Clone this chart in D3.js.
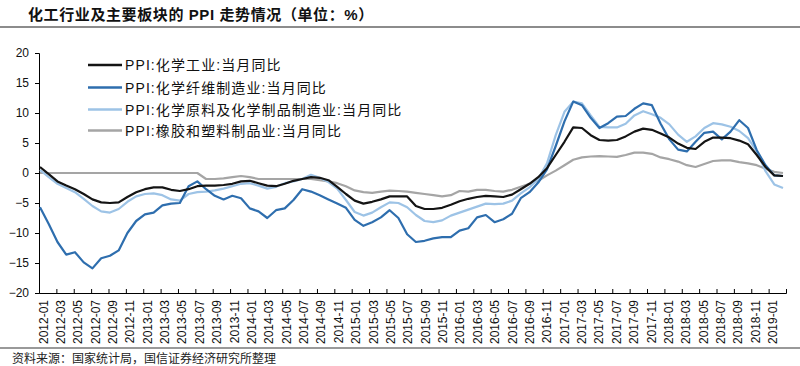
<!DOCTYPE html>
<html lang="zh">
<head>
<meta charset="UTF-8">
<script src="https://cdn.jsdelivr.net/npm/d3@7/dist/d3.min.js"></script>
<style>
  body { margin: 0; background: #fff; }
  text { font-family: "Liberation Sans", Arial, "Noto Sans CJK SC", sans-serif; }
  .title { font-size: 15px; font-weight: bold; fill: #111; letter-spacing: 0.6px; }
  .legend_text { font-size: 14px; fill: #111; letter-spacing: 1.1px; }
  .ticks_text { font-size: 12px; fill: #111; }
  .source { font-size: 12px; fill: #222; font-family: "Noto Sans CJK SC", sans-serif; }
</style>
</head>
<body>
<div id="chart"></div>
<script>
// months 2012-01 .. 2019-02
var months = [];
for (var yr = 2012; yr <= 2019; yr++) {
  for (var m = 1; m <= 12; m++) {
    if (yr === 2019 && m > 2) break;
    months.push(yr + "-" + (m < 10 ? "0" + m : m));
  }
}

var seriesNames = [
  "PPI:化学工业:当月同比",
  "PPI:化学纤维制造业:当月同比",
  "PPI:化学原料及化学制品制造业:当月同比",
  "PPI:橡胶和塑料制品业:当月同比"
];
var seriesColors = ["#141414", "#2e6eae", "#9dc3e6", "#a5a5a5"];

var chemical = [1.0, -0.2, -1.4, -2.1, -2.7, -3.5, -4.4, -4.9, -5.0, -4.9,
  -4.0, -3.2, -2.7, -2.4, -2.4, -2.8, -3.0, -2.7, -2.2, -2.1,
  -2.1, -2.0, -1.8, -1.4, -1.3, -1.7, -2.1, -2.2, -1.8, -1.3,
  -1.0, -0.7, -0.8, -1.2, -2.3, -3.5, -4.6, -5.1, -4.8, -4.4,
  -3.9, -3.9, -3.9, -5.5, -6.0, -6.0, -5.8, -5.3, -4.7, -4.3,
  -4.0, -3.8, -3.9, -4.0, -3.6, -2.7, -1.8, -0.7, 0.8, 3.0,
  5.2, 7.6, 7.5, 6.3, 5.5, 5.4, 5.5, 6.1, 6.9, 7.4,
  7.2, 6.6, 5.9, 4.9, 4.2, 4.0, 5.2, 5.9, 5.9, 5.8,
  5.4, 4.8, 3.0, 1.0, -0.4, -0.5];

var fiber = [-5.7, -8.5, -11.5, -13.6, -13.2, -14.9, -15.9, -14.2, -13.8, -12.9,
  -10.0, -8.0, -6.9, -6.6, -5.4, -5.1, -5.0, -2.2, -1.4, -2.7,
  -3.8, -4.4, -3.8, -4.2, -5.9, -6.4, -7.5, -6.2, -5.9, -4.5,
  -2.7, -3.1, -3.7, -4.4, -5.1, -5.8, -7.8, -8.8, -8.2, -7.4,
  -6.2, -7.5, -10.2, -11.5, -11.3, -10.9, -10.7, -10.7, -9.6, -9.2,
  -7.4, -7.0, -8.2, -7.7, -6.8, -4.2, -3.2, -1.6, 0.6, 4.5,
  8.6, 11.9, 11.3, 9.2, 7.5, 8.3, 9.4, 9.5, 10.7, 11.6,
  11.3, 8.2, 5.6, 3.9, 3.6, 5.2, 6.7, 6.9, 5.6, 6.9,
  8.8, 7.5, 3.8, 1.3, -0.4, -0.5];

var rawMaterial = [0.5, -0.7, -1.8, -2.5, -3.2, -4.3, -5.5, -6.4, -6.6, -6.0,
  -4.8, -3.9, -3.5, -3.4, -3.7, -4.4, -4.6, -3.5, -3.2, -3.1,
  -2.9, -2.6, -2.2, -1.8, -1.7, -2.1, -2.6, -2.3, -1.7, -1.4,
  -1.0, -0.3, -0.8, -1.5, -2.6, -4.5, -6.5, -7.1, -6.6, -5.7,
  -4.9, -5.0, -5.7, -7.0, -8.0, -8.2, -7.9, -7.1, -6.6, -6.1,
  -5.6, -5.1, -5.2, -5.1, -4.6, -3.4, -2.4, -1.0, 1.6, 6.3,
  10.2, 11.9, 11.6, 9.6, 7.7, 7.6, 7.6, 8.2, 9.6, 10.3,
  9.8, 9.2, 8.1, 6.4, 5.2, 6.1, 7.5, 8.3, 8.1, 7.7,
  7.0, 5.8, 3.6, 0.3, -1.9, -2.5];

var rubber = [0, 0, 0, 0, 0, 0, 0, 0, 0, 0,
  0, 0, 0, 0, 0, 0, 0, 0, 0, -1.0,
  -1.0, -0.9, -0.7, -0.5, -0.7, -1.0, -1.0, -1.0, -1.0, -1.0,
  -1.0, -1.0, -1.2, -1.4, -1.7, -2.2, -2.9, -3.2, -3.3, -3.1,
  -2.95, -3.0, -3.1, -3.3, -3.5, -3.7, -3.9, -3.7, -3.0, -3.1,
  -2.8, -2.8, -3.0, -3.1, -2.8, -2.3, -1.8, -1.3, -0.4, 0.4,
  1.3, 2.2, 2.6, 2.75, 2.8, 2.75, 2.7, 3.0, 3.4, 3.4,
  3.2, 2.6, 2.3, 1.9, 1.3, 1.0, 1.5, 2.0, 2.1, 2.1,
  1.8, 1.6, 1.3, 0.7, 0.2, 0.0];

var yTicks = [20, 15, 10, 5, 0, -5, -10, -15, -20];

var allSeries = [chemical, fiber, rawMaterial, rubber];

var width = 800, height = 366;
var plotLeft = 39, plotRight = 786, plotTop = 53, plotBottom = 293;

var svg = d3.select("#chart").append("svg")
  .attr("width", width)
  .attr("height", height);

// title + rules
svg.append("text")
  .attr("class", "title")
  .attr("x", 28)
  .attr("y", 20)
  .text("化工行业及主要板块的 PPI 走势情况（单位：%）");

svg.append("line")
  .attr("x1", 0).attr("x2", width)
  .attr("y1", 27).attr("y2", 27)
  .style("stroke", "#666").style("stroke-width", 1.5);

svg.append("line")
  .attr("x1", 0).attr("x2", width)
  .attr("y1", 348).attr("y2", 348)
  .style("stroke", "#999").style("stroke-width", 2);

svg.append("text")
  .attr("class", "source")
  .attr("x", 12)
  .attr("y", 363)
  .text("资料来源：国家统计局，国信证券经济研究所整理");

// scales
var xScale = d3.scaleLinear()
  .domain([0, months.length - 1])
  .range([plotLeft + 1, plotRight - 3]);

var tickScale = d3.scaleLinear()
  .domain([0, Math.ceil(months.length / 2)])
  .range([plotLeft, plotRight]);

var yScale = d3.scaleLinear()
  .domain([-20, 20])
  .range([plotBottom, plotTop]);

// y axis
var yAxis = svg.append("g")
  .attr("transform", "translate(" + plotLeft + ",0)")
  .call(d3.axisLeft(yScale).tickValues(yTicks).tickSize(4).tickPadding(6));
yAxis.select(".domain").style("stroke", "#000");
yAxis.selectAll("line").style("stroke", "#000");
yAxis.selectAll("text").attr("class", "ticks_text");

// x axis: ticks every two months, labels on first month of each pair
var tickIdx = d3.range(0, Math.ceil(months.length / 2) + 1);
var xAxis = svg.append("g")
  .attr("transform", "translate(0," + plotBottom + ")")
  .call(d3.axisTop(tickScale).tickValues(tickIdx).tickSize(4).tickFormat(""));
xAxis.select(".domain").style("stroke", "#000");
xAxis.selectAll("line").style("stroke", "#000");

var labels = months.filter(function(d, i) { return i % 2 === 0; });
svg.append("g").selectAll("text")
  .data(labels)
  .enter()
  .append("text")
  .attr("class", "ticks_text")
  .attr("text-anchor", "end")
  .attr("transform", function(d, i) {
    return "translate(" + (tickScale(i) + 8.5) + "," + (plotBottom + 7) + ") rotate(-90)";
  })
  .text(function(d) { return d; });

// lines (draw rubber first so blue/black sit on top)
var line = d3.line()
  .x(function(d, i) { return xScale(i); })
  .y(function(d) { return yScale(d); });

[3, 2, 1, 0].forEach(function(k) {
  svg.append("path")
    .datum(allSeries[k])
    .attr("d", line)
    .style("fill", "none")
    .style("stroke", seriesColors[k])
    .style("stroke-width", 2.2)
    .style("stroke-linejoin", "round");
});

// legend
var legendY = [65, 87.5, 109.5, 130.5];
var legend = svg.append("g").selectAll("g")
  .data(seriesNames)
  .enter()
  .append("g")
  .attr("transform", function(d, i) { return "translate(88," + legendY[i] + ")"; });

legend.append("line")
  .attr("x1", 0).attr("x2", 34)
  .style("stroke", function(d, i) { return seriesColors[i]; })
  .style("stroke-width", 2.5);

legend.append("text")
  .attr("class", "legend_text")
  .attr("x", 37)
  .attr("y", 5)
  .text(function(d) { return d; });
</script>
</body>
</html>
